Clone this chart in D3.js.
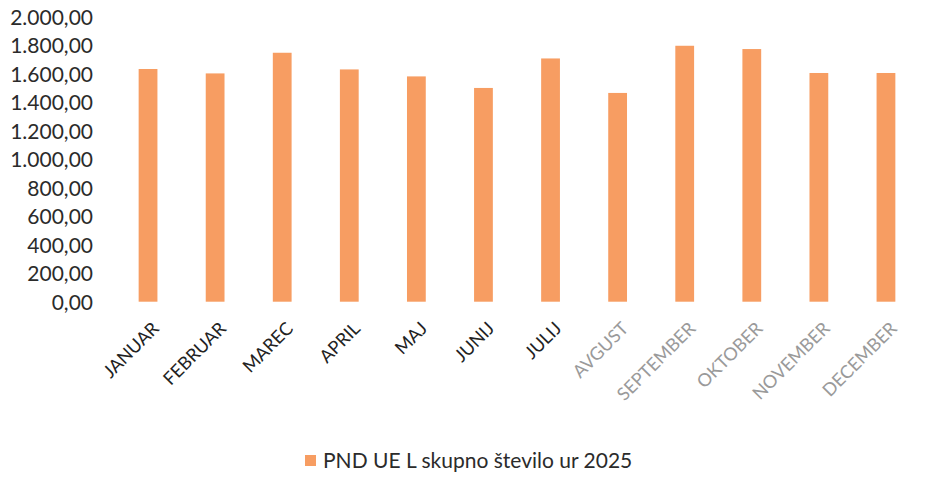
<!DOCTYPE html>
<html>
<head>
<meta charset="utf-8">
<script src="https://cdn.jsdelivr.net/npm/d3@7"></script>
<style>
  body { margin: 0; background: #fff; }
  text { font-family: Lato, "Open Sans", sans-serif; }
</style>
</head>
<body>
<div id="chart"></div>
<script>
const svgWidth = 938;
const svgHeight = 477;

// data
const months = ['JANUAR', 'FEBRUAR', 'MAREC', 'APRIL', 'MAJ', 'JUNIJ', 'JULIJ',
                'AVGUST', 'SEPTEMBER', 'OKTOBER', 'NOVEMBER', 'DECEMBER'];
const hours = [1633, 1602, 1747, 1630, 1581, 1500, 1707, 1465, 1796, 1773, 1605, 1605];
const yTicks = [0, 200, 400, 600, 800, 1000, 1200, 1400, 1600, 1800, 2000];
const seriesName = 'PND UE L skupno število ur 2025';

const barColor = '#f79d62';

let svg = d3.select('#chart')
    .append('svg')
    .attr('width', svgWidth)
    .attr('height', svgHeight)

// scales
let x = d3.scaleBand()
    .domain(months)
    .range([114.5, 919.5])
    .paddingInner(0.72)
    .paddingOuter(0.36)

let y = d3.scaleLinear()
    .domain([0, 2000])
    .range([301.7, 16.7])

// number format like 1.600,00
const fmt = d3.formatLocale({ decimal: ',', thousands: '.', grouping: [3], currency: ['', ''] }).format(',.2f');

// y axis (labels only)
let yAxis = svg.append('g')
    .attr('transform', 'translate(93,0)')
    .call(d3.axisLeft(y).tickValues(yTicks).tickFormat(fmt).tickSize(0).tickPadding(0))
yAxis.select('.domain').remove()
yAxis.selectAll('text')
    .attr('fill', '#2b2b2b')
    .style('font-size', '21px')
    .attr('dy', '0.36em')

// bars
svg.append('g').selectAll('rect')
    .data(hours)
    .enter()
    .append('rect')
    .attr('x', (d, i) => x(months[i]))
    .attr('y', d => y(d))
    .attr('width', x.bandwidth())
    .attr('height', d => y(0) - y(d))
    .attr('fill', barColor)

// x labels, rotated
let xAxis = svg.append('g')
    .attr('transform', `translate(0,${y(0)})`)
    .call(d3.axisBottom(x).tickSize(0).tickPadding(0))
xAxis.select('.domain').remove()
xAxis.selectAll('text')
    .attr('text-anchor', 'end')
    .attr('dy', null)
    .attr('y', null)
    .attr('transform', 'translate(12,28) rotate(-45)')
    .attr('fill', (d, i) => i < 7 ? '#222' : '#9a9a9a')
    .style('font-size', '18px')

// legend
let legend = svg.append('g')
    .attr('transform', 'translate(305,455)')
legend.append('rect')
    .attr('width', 11)
    .attr('height', 11)
    .attr('fill', barColor)
legend.append('text')
    .attr('x', 18)
    .attr('y', 13)
    .attr('fill', '#2b2b2b')
    .style('font-size', '21px')
    .text(seriesName)
</script>
</body>
</html>
